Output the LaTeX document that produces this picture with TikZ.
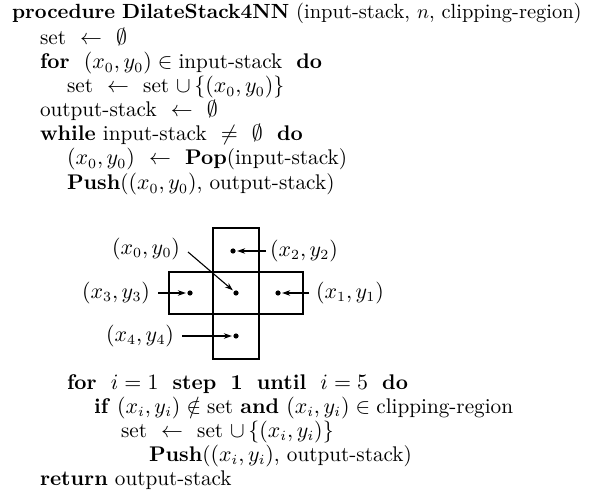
\documentclass[tikz,border=0pt]{standalone}
\usepackage{amssymb}
\usetikzlibrary{arrows.meta}
\begin{document}
\begin{tikzpicture}[x=0.5pt,y=-0.5pt,
  every node/.style={inner sep=0pt,outer sep=0pt,font=\fontsize{10.6}{12}\selectfont},
  codeline/.style={anchor=base west},
  titleline/.style={anchor=base west,font=\fontsize{10.25}{12}\selectfont},
  cell/.style={draw,line width=0.6pt},
  centercell/.style={draw,line width=1.3pt},
  dotmark/.style={circle,fill,inner sep=0pt,minimum size=2.6pt},
  ptr/.style={line width=0.55pt,-{Stealth[length=4pt,width=2.8pt]},shorten >=0.8pt},
  lab/.style={}]
\useasboundingbox (0,0) rectangle (598,501);
% code lines
\node[titleline] (l1) at (12,19) {\textbf{procedure} \textbf{DilateStack4NN} (input-stack, $n$, clipping-region)};
\node[codeline] (l2) at (40,45) {set\ \ $\leftarrow$\ \ $\emptyset$};
\node[codeline] (l3) at (40,69) {\textbf{for}\ \ $(x_0,y_0)\in{}$input-stack\ \ \textbf{do}};
\node[codeline] (l4) at (67,93) {set\ \ $\leftarrow$\ \ set $\cup\,\{(x_0,y_0)\}$};
\node[codeline] (l5) at (40,117) {output-stack\ \ $\leftarrow$\ \ $\emptyset$};
\node[codeline] (l6) at (40,141) {\textbf{while} input-stack\ \ $\neq$\ \ $\emptyset$\ \ \textbf{do}};
\node[codeline] (l7) at (67,165) {$(x_0,y_0)$\ \ $\leftarrow$\ \ \textbf{Pop}(input-stack)};
\node[codeline] (l8) at (67,190) {\textbf{Push}($(x_0,y_0)$, output-stack)};
\node[codeline] (l9) at (67,389) {\textbf{for}\ \ $i=1$\ \ \textbf{step}\ \ \textbf{1}\ \ \textbf{until}\ \ $i=5$\ \ \textbf{do}};
\node[codeline] (l10) at (94,413) {\textbf{if} $(x_i,y_i)\notin{}$set \textbf{and} $(x_i,y_i)\in{}$clipping-region};
\node[codeline] (l11) at (121,437) {set\ \ $\leftarrow$\ \ set $\cup\,\{(x_i,y_i)\}$};
\node[codeline] (l12) at (149,461) {\textbf{Push}($(x_i,y_i)$, output-stack)};
\node[codeline] (l13) at (40,485) {\textbf{return} output-stack};
% cells
\draw[cell] (213,228) rectangle (259,272);
\draw[cell] (169,272) rectangle (213,314);
\draw[cell] (259,272) rectangle (303,314);
\draw[cell] (213,314) rectangle (259,359);
\draw[centercell] (213,272) rectangle (259,314);
% dots
\node[dotmark] (d0) at (236,293) {};
\node[dotmark] (d2) at (233,251) {};
\node[dotmark] (d1) at (278,293) {};
\node[dotmark] (d3) at (190,293) {};
\node[dotmark] (d4) at (236,336) {};
% labels
\node[lab,anchor=east] (p0) at (180,249) {$(x_0,y_0)$};
\node[lab,anchor=west] (p2) at (270,251) {$(x_2,y_2)$};
\node[lab,anchor=west] (p1) at (316,293) {$(x_1,y_1)$};
\node[lab,anchor=east] (p3) at (150,293) {$(x_3,y_3)$};
\node[lab,anchor=east] (p4) at (174,336) {$(x_4,y_4)$};
% pointer start points
\coordinate (s0) at (188,252);
\coordinate (s2) at (266,251);
\coordinate (s1) at (309,293);
\coordinate (s3) at (158,293);
\coordinate (s4) at (182,336);
\draw[ptr] (s0) -- (d0);
\draw[ptr] (s2) -- (d2);
\draw[ptr] (s1) -- (d1);
\draw[ptr] (s3) -- (d3);
\draw[ptr] (s4) -- (d4);
\end{tikzpicture}
\end{document}
